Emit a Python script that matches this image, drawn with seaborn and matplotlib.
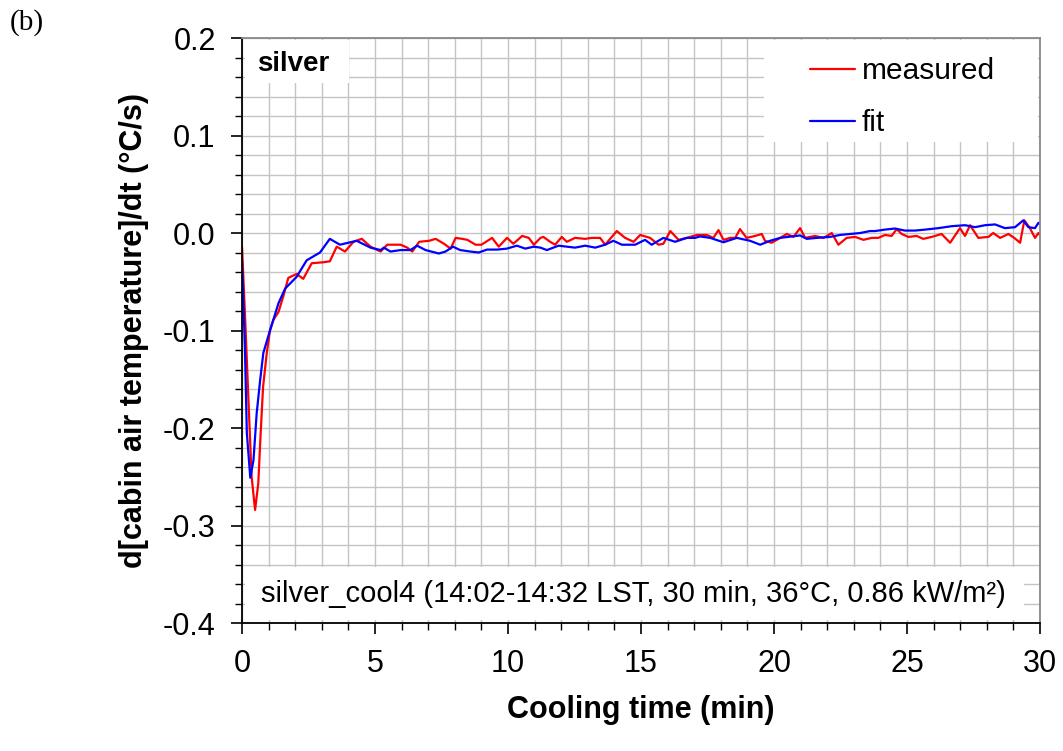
import numpy as np
import pandas as pd
import matplotlib
matplotlib.use("Agg")
import matplotlib.pyplot as plt
from matplotlib.patches import Rectangle
from matplotlib.ticker import MultipleLocator, FormatStrFormatter
import seaborn as sns

# measured cooling-rate curve (min, °C/s)
t_measured = [0, 0.12, 0.24, 0.36, 0.49, 0.61, 0.7, 0.79, 0.93, 1.05, 1.18, 1.37, 1.55, 1.74,
              2.05, 2.3, 2.62, 3.06, 3.3, 3.56, 3.87, 4.19, 4.5, 4.83, 5.21, 5.46, 5.96, 6.21,
              6.4, 6.66, 7.03, 7.28, 7.59, 7.84, 8.03, 8.28, 8.47, 8.78, 9.0, 9.4, 9.65, 9.96,
              10.2, 10.53, 10.78, 10.97, 11.22, 11.33, 11.58, 11.77, 12.02, 12.21, 12.52, 12.9,
              13.15, 13.46, 13.65, 14.09, 14.4, 14.72, 14.97, 15.34, 15.66, 15.84, 16.1, 16.41,
              16.72, 17.1, 17.47, 17.72, 17.91, 18.1, 18.35, 18.54, 18.72, 18.97, 19.29, 19.54,
              19.66, 19.91, 20.23, 20.48, 20.73, 20.98, 21.17, 21.54, 21.86, 22.17, 22.42, 22.73,
              23.05, 23.36, 23.67, 23.92, 24.17, 24.42, 24.61, 24.8, 25.05, 25.36, 25.61, 25.93,
              26.3, 26.62, 26.99, 27.18, 27.37, 27.68, 28.06, 28.24, 28.5, 28.81, 29.03, 29.25,
              29.41, 29.62, 29.81, 29.94, 30.0]
v_measured = [-0.015, -0.09, -0.171, -0.25, -0.284, -0.257, -0.205, -0.158, -0.123, -0.1, -0.089,
              -0.081, -0.065, -0.046, -0.042, -0.047, -0.031, -0.030, -0.029, -0.014, -0.019,
              -0.009, -0.006, -0.014, -0.019, -0.012, -0.012, -0.015, -0.019, -0.009, -0.008,
              -0.006, -0.011, -0.016, -0.005, -0.006, -0.007, -0.012, -0.012, -0.005, -0.014,
              -0.005, -0.011, -0.003, -0.005, -0.012, -0.005, -0.004, -0.009, -0.012, -0.004,
              -0.009, -0.005, -0.006, -0.005, -0.005, -0.012, 0.002, -0.005, -0.009, -0.002,
              -0.005, -0.012, -0.011, 0.002, -0.007, -0.005, -0.002, -0.002, -0.005, 0.003,
              -0.007, -0.005, -0.005, 0.004, -0.005, -0.003, -0.001, -0.008, -0.010, -0.005,
              -0.001, -0.004, 0.005, -0.005, -0.003, -0.005, 0.0, -0.012, -0.005, -0.004, -0.007,
              -0.005, -0.005, -0.002, -0.003, 0.004, -0.001, -0.004, -0.003, -0.006, -0.004,
              -0.001, -0.010, 0.005, -0.003, 0.008, -0.005, -0.004, 0.0, -0.005, -0.001, -0.005,
              -0.010, 0.013, 0.005, -0.005, 0.0, -0.002]

# fitted curve
t_fit = [0, 0.11, 0.18, 0.31, 0.43, 0.55, 0.68, 0.8, 1.05, 1.37, 1.62, 2.05, 2.43, 2.93, 3.3,
         3.68, 4.31, 4.83, 5.21, 5.33, 5.58, 5.96, 6.33, 6.58, 6.9, 7.4, 7.65, 7.93, 8.2, 8.58,
         8.9, 9.21, 9.59, 9.96, 10.33, 10.65, 10.97, 11.22, 11.46, 11.9, 12.52, 12.9, 13.28,
         13.65, 13.96, 14.28, 14.78, 15.15, 15.4, 15.84, 16.28, 16.72, 17.03, 17.22, 17.6, 18.1,
         18.6, 19.1, 19.48, 19.85, 20.23, 20.67, 20.98, 21.23, 21.6, 22.11, 22.48, 22.86, 23.24,
         23.61, 23.8, 24.17, 24.55, 24.92, 25.3, 25.68, 26.18, 26.68, 27.18, 27.56, 27.93, 28.31,
         28.68, 29.06, 29.37, 29.56, 29.81, 29.94, 30.0]
v_fit = [-0.029, -0.12, -0.205, -0.251, -0.233, -0.185, -0.151, -0.123, -0.1, -0.072, -0.057,
         -0.045, -0.028, -0.020, -0.006, -0.012, -0.008, -0.015, -0.0175, -0.015, -0.019, -0.0175,
         -0.0175, -0.013, -0.0175, -0.021, -0.019, -0.014, -0.0175, -0.019, -0.020, -0.017, -0.017,
         -0.016, -0.013, -0.016, -0.014, -0.015, -0.0175, -0.013, -0.015, -0.013, -0.015, -0.012,
         -0.008, -0.012, -0.012, -0.007, -0.012, -0.005, -0.009, -0.005, -0.005, -0.0035, -0.005,
         -0.0095, -0.005, -0.008, -0.012, -0.008, -0.005, -0.0035, -0.0025, -0.006, -0.005, -0.004,
         -0.002, -0.001, 0.0, 0.002, 0.002, 0.0035, 0.0046, 0.0025, 0.0025, 0.0035, 0.005, 0.007,
         0.008, 0.006, 0.008, 0.0088, 0.005, 0.006, 0.013, 0.006, 0.005, 0.0105, 0.009]

series_names = ["measured", "fit"]
series_colors = ["#ff0000", "#0000ff"]

df = pd.concat([
    pd.DataFrame({"time": t_measured, "rate": v_measured, "series": "measured"}),
    pd.DataFrame({"time": t_fit, "rate": v_fit, "series": "fit"}),
], ignore_index=True)

sns.set_style("white")
plt.rcParams["font.family"] = ["Liberation Sans", "DejaVu Sans"]
plt.rcParams["axes.unicode_minus"] = False
for key in ["text.color", "axes.labelcolor", "xtick.color", "ytick.color"]:
    plt.rcParams[key] = "black"

fig = plt.figure(figsize=(10.63, 7.51), dpi=100)
ax = fig.add_axes([0.2277, 0.1704, 0.7507, 0.779])

sns.lineplot(data=df, x="time", y="rate", hue="series", hue_order=series_names,
             palette=dict(zip(series_names, series_colors)), linewidth=1.6,
             estimator=None, sort=False, ax=ax, legend=False)

ax.set_xlim(0, 30)
ax.set_ylim(-0.4, 0.2)
ax.xaxis.set_major_locator(MultipleLocator(5))
ax.xaxis.set_minor_locator(MultipleLocator(1))
ax.yaxis.set_major_locator(MultipleLocator(0.1))
ax.yaxis.set_minor_locator(MultipleLocator(0.02))
ax.yaxis.set_major_formatter(FormatStrFormatter("%.1f"))

ax.set_axisbelow(True)
ax.grid(which="both", color="#c4c4c4", linewidth=1.0)
ax.tick_params(which="major", direction="out", length=8, width=1.2, color="black",
               labelsize=22, pad=11, left=True, bottom=True)
ax.tick_params(which="minor", direction="out", length=5, width=1.0, color="black",
               left=True, bottom=True)

for side in ["left", "bottom"]:
    ax.spines[side].set_color("black")
    ax.spines[side].set_linewidth(1.3)
for side in ["top", "right"]:
    ax.spines[side].set_color("#888888")
    ax.spines[side].set_linewidth(1.3)

ax.set_xlabel("Cooling time (min)", fontsize=22, fontweight="bold", labelpad=11)
ax.set_ylabel("d[cabin air temperature]/dt (°C/s)", fontsize=22, fontweight="bold", labelpad=10)

# white boxes that hide the grid behind the labels
ax.add_patch(Rectangle((0.004, 0.923), 0.13, 0.074, transform=ax.transAxes,
                       facecolor="white", edgecolor="none", zorder=1))
ax.add_patch(Rectangle((0.654, 0.822), 0.343, 0.175, transform=ax.transAxes,
                       facecolor="white", edgecolor="none", zorder=1))
ax.add_patch(Rectangle((0.004, 0.006), 0.976, 0.09, transform=ax.transAxes,
                       facecolor="white", edgecolor="none", zorder=1))

ax.text(0.019, 0.956, "silver", transform=ax.transAxes, fontsize=20, fontweight="bold",
        ha="left", va="center", zorder=3)
ax.text(0.49, 0.05, "silver_cool4 (14:02-14:32 LST, 30 min, 36°C, 0.86 kW/m²)",
        transform=ax.transAxes, fontsize=21, ha="center", va="center", zorder=3)

handles = [plt.Line2D([], [], color=c, linewidth=1.6) for c in series_colors]
ax.legend(handles, series_names, loc="upper left", bbox_to_anchor=(0.712, 0.967),
          frameon=False, fontsize=21.5, handlelength=1.5, handletextpad=0.23,
          labelspacing=0.8, borderpad=0, borderaxespad=0)

fig.text(0.009, 0.988, "(b)", fontsize=21, family="Liberation Serif", ha="left", va="top")

plt.savefig("out.png", dpi=100)
plt.close()
